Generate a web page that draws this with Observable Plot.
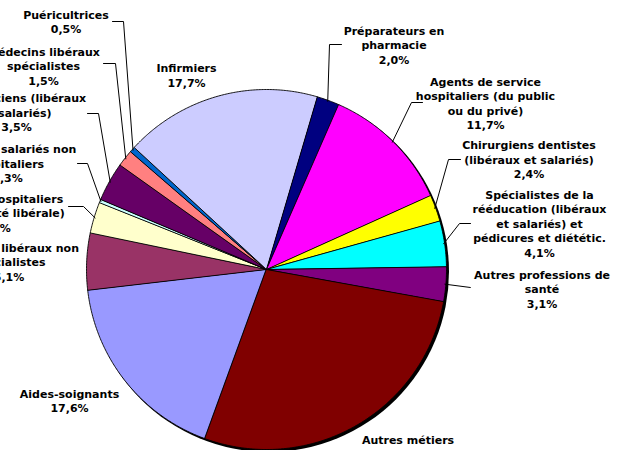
<!DOCTYPE html>
<html><head><meta charset="utf-8">
<script src="https://cdn.jsdelivr.net/npm/d3@7"></script>
<script src="https://cdn.jsdelivr.net/npm/@observablehq/plot@0.6"></script>
<style>html,body{margin:0;padding:0;background:#fff;overflow:hidden} #chart svg{display:block}</style>
</head><body><div id="chart"></div>
<script>
// ---- data ----
const categories = [
  "Aides-soignants",
  "Médecins libéraux non spécialistes",
  "Médecins hospitaliers (hors activité libérale)",
  "Médecins salariés non hospitaliers",
  "Pharmaciens (libéraux et salariés)",
  "Médecins libéraux spécialistes",
  "Puéricultrices",
  "Infirmiers",
  "Préparateurs en pharmacie",
  "Agents de service hospitaliers (du public ou du privé)",
  "Chirurgiens dentistes (libéraux et salariés)",
  "Spécialistes de la rééducation (libéraux et salariés) et pédicures et diététic.",
  "Autres professions de santé",
  "Autres métiers"
];
const shares = [17.6, 5.1, 2.8, 0.3, 3.5, 1.5, 0.5, 17.7, 2.0, 11.7, 2.4, 4.1, 3.1, 27.7];
const labelLines = [
  ["Aides-soignants"],
  ["Médecins libéraux non", "spécialistes"],
  ["Médecins hospitaliers", "(hors activité libérale)"],
  ["Médecins salariés non", "hospitaliers"],
  ["Pharmaciens (libéraux", "et salariés)"],
  ["Médecins libéraux", "spécialistes"],
  ["Puéricultrices"],
  ["Infirmiers"],
  ["Préparateurs en", "pharmacie"],
  ["Agents de service", "hospitaliers (du public", "ou du privé)"],
  ["Chirurgiens dentistes", "(libéraux et salariés)"],
  ["Spécialistes de la", "rééducation (libéraux", "et salariés) et", "pédicures et diététic."],
  ["Autres professions de", "santé"],
  ["Autres métiers"]
];
const colors = ["#9999FF","#993366","#FFFFCC","#CCFFFF","#660066","#FF8080","#0066CC",
                "#CCCCFF","#000080","#FF00FF","#FFFF00","#00FFFF","#800080","#800000"];

// ---- layout (pixels) ----
const W = 624, H = 450;
const cx = 266, cy = 269, R = 180, startDeg = 200;
const lineH = 14.5, fontSize = 11;
const labelPos = [ // [centre x, first baseline y]
  [69, 397], [8.5, 251], [-5, 202], [7, 152.5], [16, 101.5], [43, 55], [65.5, 18],
  [186, 71.5], [393.5, 34], [485, 85], [528.5, 148.5], [539, 198], [541.5, 278], [407.5, 443]
];
const leaders = [ // [elbow, end] for labels with a leader line
  null, null, [[83,206],[68,206]], [[87,163],[77,163]], [[98,113],[87,113]],
  [[115,63],[103,63]], [[123,21],[112,21]], null, [[329,44],[341,44]],
  [[411,102],[422,102]], [[448,159],[460,159]], [[459,223],[470,223]],
  [[470,287],[470,287]], null
];

// ---- geometry ----
const start = startDeg * Math.PI / 180;
const arcs = d3.pie().sort(null).value(d => d).startAngle(start).endAngle(start + 2 * Math.PI)(shares);
const pt = (a, r) => ({x: cx + r * Math.sin(a), y: cy - r * Math.cos(a)});

const marks = [];
// shadow
marks.push(Plot.dot([{x: cx + 2, y: cy + 2}], {x: "x", y: "y", r: R + 0.5, fill: "#000", stroke: null}));
// slices
arcs.forEach((a, i) => {
  const pts = [{x: cx, y: cy}];
  const n = Math.max(2, Math.ceil((a.endAngle - a.startAngle) / (Math.PI / 360)));
  for (let k = 0; k <= n; k++) pts.push(pt(a.startAngle + (a.endAngle - a.startAngle) * k / n, R));
  marks.push(Plot.line(pts, {x: "x", y: "y", fill: colors[i], stroke: "#000", strokeWidth: 0.9,
    curve: "linear-closed", strokeLinejoin: "round"}));
});
// leader lines
const leaderRows = [];
arcs.forEach((a, i) => {
  if (!leaders[i]) return;
  const mid = (a.startAngle + a.endAngle) / 2;
  leaderRows.push({i, ...pt(mid, R - 1)});
  leaderRows.push({i, x: leaders[i][0][0], y: leaders[i][0][1]});
  leaderRows.push({i, x: leaders[i][1][0], y: leaders[i][1][1]});
});
marks.push(Plot.line(leaderRows, {x: "x", y: "y", z: "i", stroke: "#000", strokeWidth: 1}));
// labels
const fmt = v => v.toFixed(1).replace(".", ",") + "%";
const labelRows = categories.map((c, i) => {
  const lines = [...labelLines[i], fmt(shares[i])];
  return {text: lines.join("\n"), x: labelPos[i][0], y: labelPos[i][1] + (lines.length - 1) * lineH};
});
marks.push(Plot.text(labelRows, {x: "x", y: "y", text: "text", lineAnchor: "bottom",
  lineHeight: lineH / fontSize, fontSize, fontWeight: "bold", fontFamily: "DejaVu Sans",
  fill: "#000", textAnchor: "middle"}));

const chart = Plot.plot({
  width: W, height: H, margin: 0,
  x: {domain: [0, W], range: [0, W], axis: null},
  y: {domain: [0, H], range: [0, H], axis: null},
  style: {background: "#fff", overflow: "hidden"},
  marks
});
document.getElementById("chart").appendChild(chart);
</script>
</body></html>
